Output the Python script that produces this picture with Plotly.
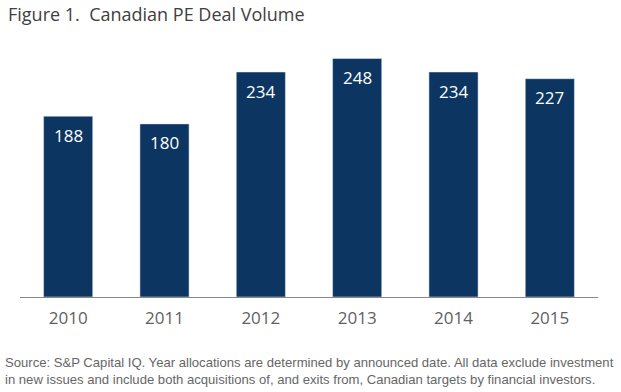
import plotly.graph_objects as go

years = ["2010", "2011", "2012", "2013", "2014", "2015"]
deals = [188, 180, 234, 248, 234, 227]

title_text = "Figure 1.  Canadian PE Deal Volume"
source_lines = [
    "Source: S&P Capital IQ. Year allocations are determined by announced date. All data exclude investment",
    "in new issues and include both acquisitions of, and exits from, Canadian targets by financial investors.",
]

bar_color = "#0c3562"

W, H = 621, 392
ml, mr, mt, mb = 20, 23, 47, 95
pw, ph = W - ml - mr, H - mt - mb


def to_px(x):
    return (x - ml) / pw


def to_py(y):
    return (H - mb - y) / ph


fig = go.Figure()
fig.add_trace(go.Bar(
    x=years, y=deals,
    marker=dict(color=bar_color),
    text=[str(v) for v in deals],
    textposition="none",
))

annotations = []
for i, v in enumerate(deals):
    annotations.append(dict(
        x=i, y=v, xref="x", yref="y", text=str(v), showarrow=False,
        yanchor="middle", yshift=-19,
        font=dict(family="Open Sans", size=17, color="white"),
    ))
annotations.append(dict(
    x=to_px(6), y=to_py(14), xref="paper", yref="paper", text=title_text,
    showarrow=False, xanchor="left", yanchor="middle",
    font=dict(family="Open Sans", size=18, color="#404040"),
))
annotations.append(dict(
    x=to_px(3), y=to_py(371), xref="paper", yref="paper",
    text="<br>".join(source_lines),
    showarrow=False, xanchor="left", yanchor="middle", align="left",
    font=dict(family="Liberation Sans", size=13.1, color="#666666"),
))

fig.update_layout(
    width=W, height=H,
    margin=dict(l=ml, r=mr, t=mt, b=mb),
    paper_bgcolor="white", plot_bgcolor="white",
    bargap=0.49,
    showlegend=False,
    annotations=annotations,
    xaxis=dict(
        type="category",
        showline=True, linecolor="#888888", linewidth=1,
        ticks="", showgrid=False, ticklabelstandoff=6,
        tickfont=dict(family="Open Sans", size=17, color="#5f5f5f"),
    ),
    yaxis=dict(range=[0, 260], visible=False),
)

fig.write_html(
    "out.html",
    config={"displayModeBar": False},
    post_script="document.body.style.margin='0';",
)
